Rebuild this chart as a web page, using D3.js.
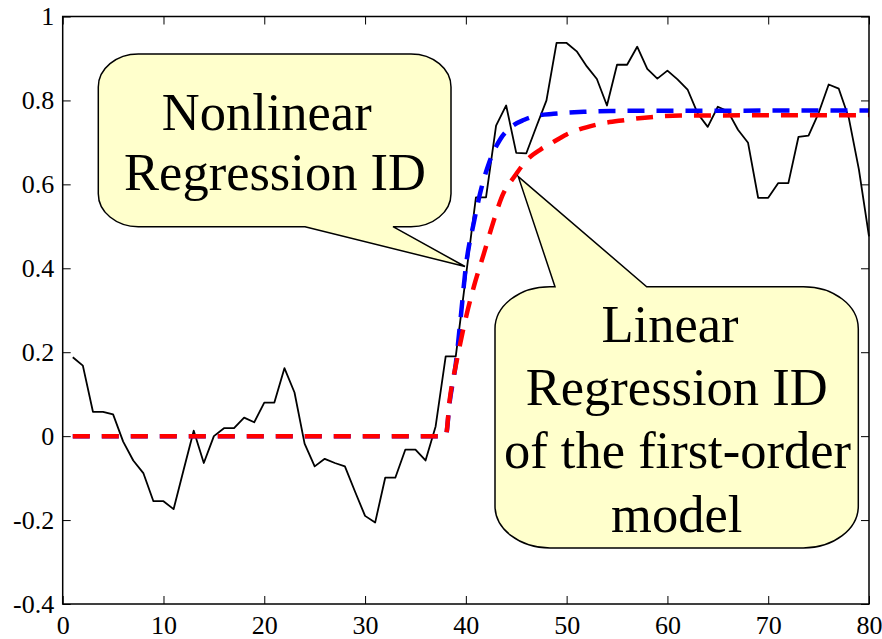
<!DOCTYPE html>
<html>
<head>
<meta charset="utf-8">
<script src="https://cdn.jsdelivr.net/npm/d3@7"></script>
<style>
  body { margin: 0; background: #fff; }
  text { font-family: "Liberation Serif", "Times New Roman", serif; }
</style>
</head>
<body>
<script>
// measured process output, one sample per time step (t = 1..80)
var sampleTimes = d3.range(1, 81);
var measured = [
  0.188, 0.168, 0.058, 0.058, 0.052, -0.013, -0.058, -0.088, -0.155, -0.155,
  -0.174, -0.080, 0.013, -0.064, 0.000, 0.019, 0.019, 0.044, 0.033, 0.080,
  0.080, 0.162, 0.104, -0.018, -0.072, -0.054, -0.064, -0.072, -0.132, -0.190,
  -0.206, -0.099, -0.099, -0.032, -0.032, -0.058, 0.023, 0.190, 0.190, 0.380,
  0.569, 0.569, 0.740, 0.788, 0.675, 0.674, 0.738, 0.800, 0.937, 0.937,
  0.917, 0.881, 0.851, 0.788, 0.885, 0.885, 0.928, 0.875, 0.852, 0.871,
  0.850, 0.826, 0.769, 0.737, 0.785, 0.774, 0.730, 0.699, 0.568, 0.568,
  0.603, 0.603, 0.713, 0.716, 0.770, 0.838, 0.828, 0.758, 0.635, 0.476
];

// nonlinear regression model response (blue)
var nonlinT = [1, 38, 38.4, 39, 39.5, 40, 40.8, 41.5, 42.3, 43.4, 44.4, 45.8, 47.1, 48.7, 51.7, 54.4, 80];
var nonlinY = [0, 0, 0.082, 0.172, 0.285, 0.404, 0.510, 0.587, 0.651, 0.707, 0.735, 0.754, 0.764, 0.768, 0.773, 0.775, 0.776];

// linear regression first-order model response (red)
var linT = [1, 38, 38.4, 39.1, 39.8, 40.8, 41.8, 42.8, 43.6, 44.8, 46.1, 47.4, 48.4, 50, 52.9, 55.7, 58.7, 61.3, 80];
var linY = [0, 0, 0.087, 0.180, 0.261, 0.357, 0.436, 0.516, 0.572, 0.618, 0.659, 0.683, 0.697, 0.719, 0.742, 0.753, 0.761, 0.764, 0.765];

var xTicks = [0, 10, 20, 30, 40, 50, 60, 70, 80];
var yTicks = [-0.4, -0.2, 0, 0.2, 0.4, 0.6, 0.8, 1];
var yTickLabels = ['-0.4', '-0.2', '0', '0.2', '0.4', '0.6', '0.8', '1'];

var screen = { width: 882, height: 639 };
var plot = { left: 62.7, right: 869, top: 16.5, bottom: 604 };
var serif = '"Liberation Serif", "Times New Roman", serif';

var svg = d3.select('body')
            .append('svg')
            .attr('width', screen.width)
            .attr('height', screen.height);

var xScale = d3.scaleLinear().domain([0, 80]).range([plot.left, plot.right]);
var yScale = d3.scaleLinear().domain([-0.4, 1]).range([plot.bottom, plot.top]);

// lines
var line = d3.line()
             .x(function(d){ return xScale(d[0]); })
             .y(function(d){ return yScale(d[1]); });
var smooth = d3.line()
               .x(function(d){ return xScale(d[0]); })
               .y(function(d){ return yScale(d[1]); })
               .curve(d3.curveMonotoneX);

svg.append('path')
   .datum(d3.zip(sampleTimes, measured))
   .attr('d', line)
   .attr('fill', 'none')
   .attr('stroke', '#000')
   .attr('stroke-width', 1.8)
   .attr('stroke-linejoin', 'round');

svg.append('path')
   .datum(d3.zip(nonlinT, nonlinY))
   .attr('d', smooth)
   .attr('fill', 'none')
   .attr('stroke', '#0000ff')
   .attr('stroke-width', 4.5)
   .attr('stroke-dasharray', '17,12');

svg.append('path')
   .datum(d3.zip(linT, linY))
   .attr('d', smooth)
   .attr('fill', 'none')
   .attr('stroke', '#ff0000')
   .attr('stroke-width', 4.5)
   .attr('stroke-dasharray', '17,12');

// axes (ticks inside, box around)
var gx = svg.append('g')
   .attr('transform', 'translate(0,' + plot.bottom + ')')
   .call(d3.axisBottom(xScale).tickValues(xTicks).tickSizeInner(-8).tickSizeOuter(0).tickPadding(12));
var gy = svg.append('g')
   .attr('transform', 'translate(' + plot.left + ',0)')
   .call(d3.axisLeft(yScale).tickValues(yTicks)
           .tickFormat(function(d, i){ return yTickLabels[i]; })
           .tickSizeInner(-8).tickSizeOuter(0).tickPadding(8.5));
var gt = svg.append('g')
   .attr('transform', 'translate(0,' + plot.top + ')')
   .call(d3.axisTop(xScale).tickValues(xTicks).tickFormat('').tickSizeInner(-8).tickSizeOuter(0));
var gr = svg.append('g')
   .attr('transform', 'translate(' + plot.right + ',0)')
   .call(d3.axisRight(yScale).tickValues(yTicks).tickFormat('').tickSizeInner(-8).tickSizeOuter(0));

[gx, gy, gt, gr].forEach(function(g){
  g.attr('font-family', serif).attr('font-size', 26);
  g.select('.domain').remove();
  g.selectAll('line').attr('stroke', '#000').attr('stroke-width', 1);
  g.selectAll('text')
   .attr('fill', '#000')
   .style('font-family', serif)
   .style('font-size', '26px');
});

svg.append('rect')
   .attr('x', plot.left)
   .attr('y', plot.top)
   .attr('width', plot.right - plot.left)
   .attr('height', plot.bottom - plot.top)
   .attr('fill', 'none')
   .attr('stroke', '#000')
   .attr('stroke-width', 1.5);

// CALLOUTS //
function callout(box, tail){
  var p = d3.path();
  var x0 = box.x0, y0 = box.y0, x1 = box.x1, y1 = box.y1, rx = box.rx, ry = box.ry;
  function arc(x, y){ p._ += 'A' + rx + ',' + ry + ',0,0,1,' + x + ',' + y; }
  p.moveTo(x0 + rx, y0);
  if (tail.side == 'top'){
    p.lineTo(tail.a, y0); p.lineTo(tail.tip[0], tail.tip[1]); p.lineTo(tail.b, y0);
  }
  p.lineTo(x1 - rx, y0); arc(x1, y0 + ry);
  p.lineTo(x1, y1 - ry); arc(x1 - rx, y1);
  if (tail.side == 'bottom'){
    p.lineTo(tail.b, y1); p.lineTo(tail.tip[0], tail.tip[1]); p.lineTo(tail.a, y1);
  }
  p.lineTo(x0 + rx, y1); arc(x0, y1 - ry);
  p.lineTo(x0, y0 + ry); arc(x0 + rx, y0);
  p.closePath();
  return p.toString();
}

var notes = [
  { box: { x0: 98.3, y0: 54, x1: 451, y1: 226.7, rx: 40, ry: 33 },
    tail: { side: 'bottom', a: 305, b: 393, tip: [465, 266.5] },
    lines: [['Nonlinear', 266.7, 130], ['Regression ID', 275, 190]] },
  { box: { x0: 495, y0: 286.7, x1: 858.3, y1: 548, rx: 55, ry: 42 },
    tail: { side: 'top', a: 555, b: 646.7, tip: [518.3, 176.7] },
    lines: [['Linear', 670, 341.7], ['Regression ID', 676.7, 405],
            ['of the first-order', 677.5, 468.3], ['model', 676.7, 531.7]] }
];

notes.forEach(function(n){
  var g = svg.append('g');
  g.append('path')
   .attr('d', callout(n.box, n.tail))
   .attr('fill', '#ffffcc')
   .attr('stroke', '#000')
   .attr('stroke-width', 1.5)
   .attr('stroke-linejoin', 'miter');
  g.selectAll('text')
   .data(n.lines)
   .enter()
   .append('text')
   .attr('x', function(d){ return d[1]; })
   .attr('y', function(d){ return d[2]; })
   .attr('text-anchor', 'middle')
   .style('font-family', serif)
   .style('font-size', '52.5px')
   .attr('fill', '#000')
   .text(function(d){ return d[0]; });
});
</script>
</body>
</html>
